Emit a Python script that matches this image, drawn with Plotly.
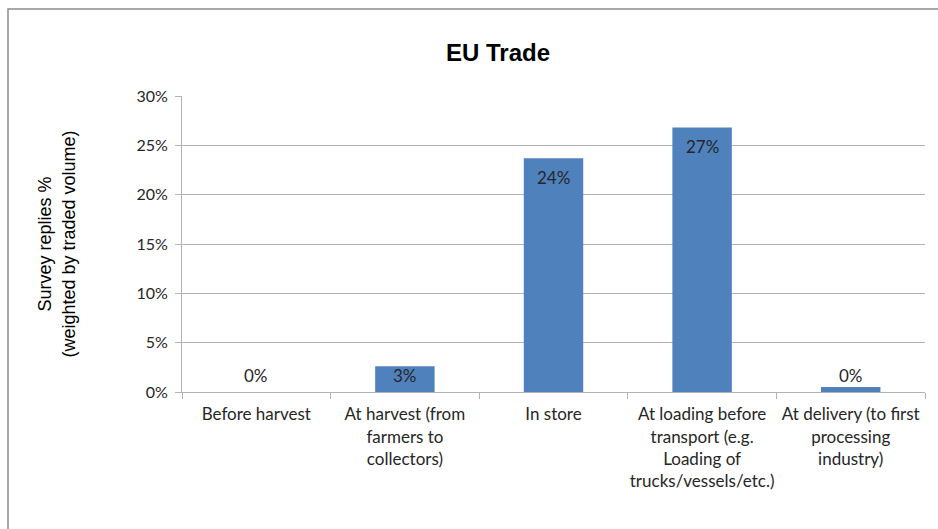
import plotly.graph_objects as go

# Survey results: stage at which the issue occurs, EU trade
categories = [
    "Before harvest",
    "At harvest (from<br>farmers to<br>collectors)",
    "In store",
    "At loading before<br>transport (e.g.<br>Loading of<br>trucks/vessels/etc.)",
    "At delivery (to first<br>processing<br>industry)",
]
shares = [0.0, 0.026, 0.237, 0.268, 0.005]
y_ticks = [0, 0.05, 0.10, 0.15, 0.20, 0.25, 0.30]

W, H = 938, 529
ML, MR, MT, MB = 182, 13, 96, 137
plot_w = W - ML - MR
plot_h = H - MT - MB

BAR = "#4F81BD"
GRID = "#b3b3b3"
TEXT = "#262626"
BODY_FONT = "Lato, Carlito, Calibri, sans-serif"

fig = go.Figure(
    go.Bar(
        x=categories,
        y=shares,
        marker=dict(color=BAR, line=dict(width=0)),
        hoverinfo="skip",
    )
)

# Value labels: inside the top of tall bars, just above the baseline for short ones
for cat, v in zip(categories, shares):
    tall = v >= 0.05
    fig.add_annotation(
        x=cat,
        y=v if tall else 0,
        yshift=-19 if tall else 17,
        text=f"{v:.0%}",
        showarrow=False,
        yanchor="middle",
        font=dict(family=BODY_FONT, size=17, color=TEXT),
    )

# Outer chart frame (extends past the right and bottom edges)
def px_to_paper_x(px):
    return (px - ML) / plot_w

def px_to_paper_y(py):
    return (H - MB - py) / plot_h

fig.add_shape(
    type="rect",
    xref="paper", yref="paper",
    x0=px_to_paper_x(8), x1=px_to_paper_x(990),
    y0=px_to_paper_y(560), y1=px_to_paper_y(9),
    line=dict(color="#8c8c8c", width=1.5),
    fillcolor="rgba(0,0,0,0)",
    layer="above",
)

fig.update_layout(
    width=W,
    height=H,
    margin=dict(l=ML, r=MR, t=MT, b=MB, autoexpand=False),
    paper_bgcolor="white",
    plot_bgcolor="white",
    showlegend=False,
    bargap=0.6,
    title=dict(
        text="<b>EU Trade</b>",
        font=dict(family="Liberation Sans, Arial, sans-serif", size=24, color="black"),
        x=498 / W,
        xref="container",
        xanchor="center",
        y=1 - 53 / H,
        yref="container",
        yanchor="middle",
    ),
    xaxis=dict(
        showgrid=False,
        showline=True,
        linecolor=GRID,
        linewidth=1,
        ticks="outside",
        tickson="boundaries",
        ticklen=6,
        tickcolor=GRID,
        tickangle=0,
        ticklabelstandoff=7,
        tickfont=dict(family=BODY_FONT, size=17, color=TEXT),
        automargin=False,
    ),
    yaxis=dict(
        range=[0, 0.30],
        tickvals=y_ticks,
        tickformat=".0%",
        showgrid=True,
        gridcolor=GRID,
        gridwidth=1,
        zeroline=False,
        showline=True,
        linecolor=GRID,
        linewidth=1,
        ticks="outside",
        ticklen=6,
        tickcolor=GRID,
        ticklabelstandoff=4,
        tickfont=dict(family=BODY_FONT, size=16, color=TEXT),
        title=dict(
            text="Survey replies %<br>(weighted by traded volume)",
            font=dict(family="Liberation Sans, Arial, sans-serif", size=18, color="black"),
            standoff=56,
        ),
        automargin=False,
    ),
)

fig.write_html("out.html")
